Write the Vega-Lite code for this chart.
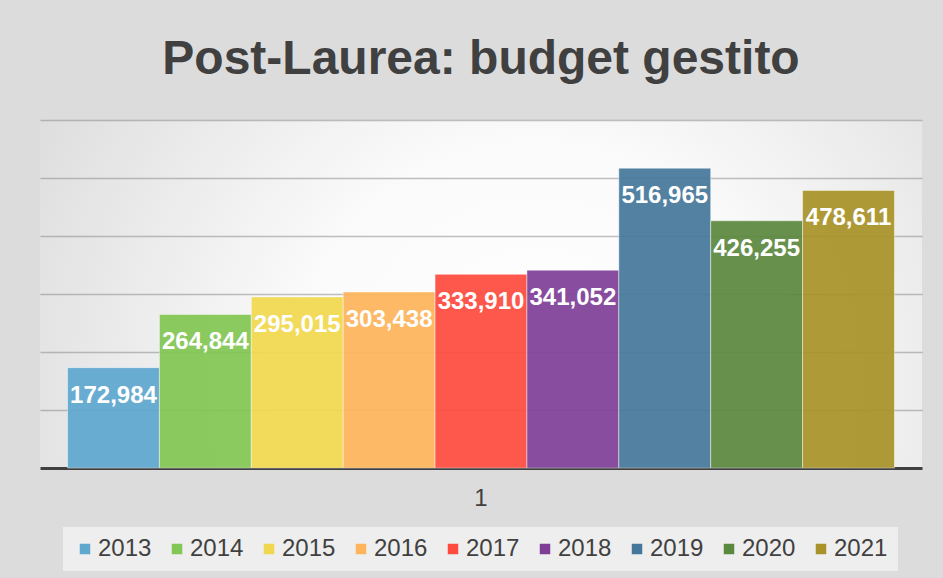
{
  "$schema": "https://vega.github.io/schema/vega-lite/v6.json",
  "autosize": "none",
  "width": 882,
  "height": 348,
  "padding": {"left": 40, "top": 120, "right": 21, "bottom": 110},
  "background": "#dcdcdc",
  "view": {
    "stroke": null,
    "fill": {
      "gradient": "radial",
      "x1": 0.56, "y1": 0.6, "r1": 0,
      "x2": 0.56, "y2": 0.6, "r2": 0.66,
      "stops": [
        {"offset": 0, "color": "#ffffff"},
        {"offset": 0.4, "color": "#fbfbfb"},
        {"offset": 1, "color": "#dcdcdc"}
      ]
    }
  },
  "title": {
    "text": "Post-Laurea: budget gestito",
    "font": "Liberation Sans",
    "fontSize": 48,
    "fontWeight": "bold",
    "color": "#404040",
    "anchor": "middle",
    "baseline": "alphabetic",
    "offset": -2
  },
  "data": {
    "values": [
      {"cat": "1", "year": "2013", "value": 172984},
      {"cat": "1", "year": "2014", "value": 264844},
      {"cat": "1", "year": "2015", "value": 295015},
      {"cat": "1", "year": "2016", "value": 303438},
      {"cat": "1", "year": "2017", "value": 333910},
      {"cat": "1", "year": "2018", "value": 341052},
      {"cat": "1", "year": "2019", "value": 516965},
      {"cat": "1", "year": "2020", "value": 426255},
      {"cat": "1", "year": "2021", "value": 478611}
    ]
  },
  "encoding": {
    "x": {
      "field": "cat",
      "type": "nominal",
      "scale": {"paddingOuter": 0.0333, "paddingInner": 0},
      "axis": {
        "title": null,
        "labelAngle": 0,
        "ticks": false,
        "labelFont": "Liberation Sans",
        "labelFontSize": 24,
        "labelColor": "#404040",
        "labelPadding": 18,
        "domainColor": "#404040",
        "domainWidth": 3
      }
    },
    "xOffset": {"field": "year", "type": "nominal", "scale": {"paddingInner": 0, "paddingOuter": 0}},
    "y": {
      "field": "value",
      "type": "quantitative",
      "scale": {"domain": [0, 600000]},
      "axis": {
        "title": null,
        "labels": false,
        "ticks": false,
        "domain": false,
        "grid": true,
        "values": [100000, 200000, 300000, 400000, 500000, 600000],
        "gridColor": "#8c8c8c",
        "gridOpacity": 0.55,
        "gridWidth": 1.5
      }
    }
  },
  "layer": [
    {
      "mark": {"type": "bar", "fillOpacity": 0.93, "stroke": "#ffffff", "strokeOpacity": 0.45, "strokeWidth": 1},
      "encoding": {
        "color": {
          "field": "year",
          "type": "nominal",
          "scale": {
            "domain": ["2013", "2014", "2015", "2016", "2017", "2018", "2019", "2020", "2021"],
            "range": ["#5fa7cf", "#82c653", "#f1d74f", "#fdb45a", "#fe4b40", "#7f3f97", "#45779a", "#5b883f", "#a99229"]
          },
          "legend": {
            "title": null,
            "orient": "none",
            "legendX": 23,
            "legendY": 407,
            "direction": "horizontal",
            "columns": 9,
            "columnPadding": 13,
            "symbolType": "square",
            "symbolSize": 110,
            "symbolStrokeWidth": 0,
            "symbolOpacity": 1,
            "labelFont": "Liberation Sans",
            "labelFontSize": 24,
            "labelColor": "#404040",
            "labelOffset": 1,
            "padding": 10,
            "fillColor": "rgba(245,245,245,0.7)"
          }
        }
      }
    },
    {
      "mark": {
        "type": "text",
        "color": "#ffffff",
        "font": "Liberation Sans",
        "fontSize": 24,
        "fontWeight": "bold",
        "baseline": "alphabetic",
        "align": "center",
        "dy": 35
      },
      "encoding": {
        "text": {"field": "value", "type": "quantitative", "format": ","}
      }
    }
  ]
}
